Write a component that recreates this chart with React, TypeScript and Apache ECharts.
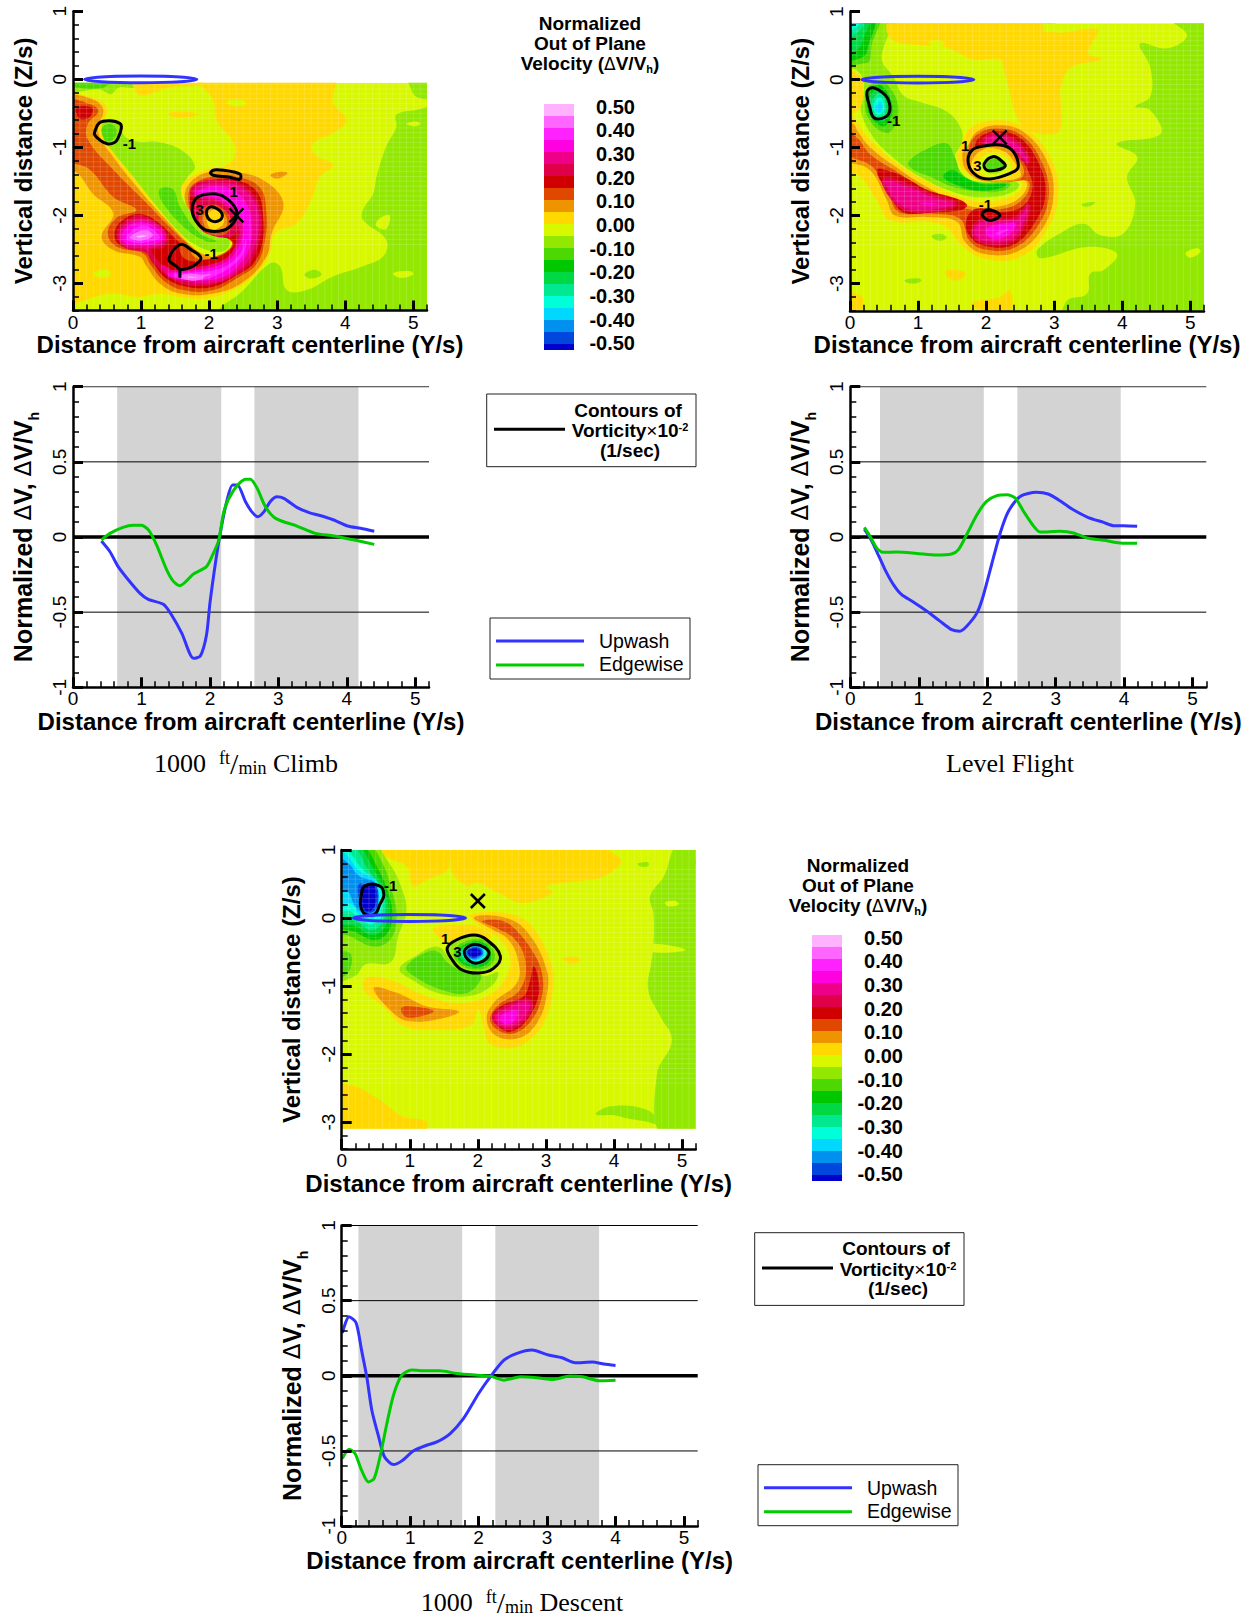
import React, { useEffect, useRef } from "react";
import * as echarts from "echarts";

type Pt = [number, number];
type Band = [number, Pt[]];

const swatchColors = ["#FFB3FF","#FF66FF","#FF22FF","#FF00E0","#EE0088","#E0004A","#D00000","#E04800","#EE9400","#FFD800","#D8F800","#92E800","#4CD800","#00C800","#00D844","#00E890","#00FFD8","#00D8FF","#0090EE","#0048DD","#0000CC"];
const legendTicks = ["0.50","0.40","0.30","0.20","0.10","0.00","-0.10","-0.20","-0.30","-0.40","-0.50"];
const xMajor = [0,1,2,3,4,5];
const xMinor = [0,0.2,0.4,0.6,0.8,1,1.2,1.4,1.6,1.8,2,2.2,2.4,2.6,2.8,3,3.2,3.4,3.6,3.8,4,4.2,4.4,4.6,4.8,5,5.2];
const zMajor = [-3,-2,-1,0,1];
const zMinor = [-3.4,-3.2,-3,-2.8,-2.6,-2.4,-2.2,-2,-1.8,-1.6,-1.4,-1.2,-1,-0.8,-0.6,-0.4,-0.2,0,0.2,0.4,0.6,0.8,1];
const vMajor = [-1,-0.5,0,0.5,1];
const vMinor = [-1,-0.9,-0.8,-0.7,-0.6,-0.5,-0.4,-0.3,-0.2,-0.1,0,0.1,0.2,0.3,0.4,0.5,0.6,0.7,0.8,0.9,1];
const thinRefs = [1,0.5,-0.5];

const climbUpwash: Pt[] = [[0.415,-0.027],[0.54,-0.098],[0.66,-0.197],[0.81,-0.286],[0.98,-0.375],[1.1,-0.415],[1.32,-0.448],[1.44,-0.519],[1.59,-0.641],[1.76,-0.807],[1.86,-0.792],[1.95,-0.652],[2,-0.441],[2.08,-0.175],[2.15,0.024],[2.25,0.246],[2.33,0.346],[2.4,0.346],[2.52,0.235],[2.61,0.169],[2.7,0.135],[2.79,0.169],[2.88,0.235],[2.98,0.268],[3.08,0.257],[3.27,0.197],[3.45,0.162],[3.67,0.135],[3.81,0.113],[4.01,0.073],[4.2,0.058],[4.4,0.038]];
const climbEdgewise: Pt[] = [[0.415,-0.02],[0.54,0.024],[0.73,0.064],[0.88,0.078],[1,0.078],[1.11,0.042],[1.22,-0.053],[1.37,-0.22],[1.47,-0.297],[1.56,-0.324],[1.76,-0.246],[1.95,-0.197],[2.05,-0.109],[2.13,-0.02],[2.21,0.18],[2.35,0.313],[2.52,0.384],[2.59,0.384],[2.69,0.324],[2.81,0.202],[2.96,0.124],[3.27,0.073],[3.54,0.024],[3.81,0.007],[4.11,-0.02],[4.4,-0.049]];
const levelUpwash: Pt[] = [[0.205,0.053],[0.29,-0.007],[0.385,-0.095],[0.507,-0.217],[0.63,-0.317],[0.75,-0.384],[0.92,-0.432],[1.12,-0.494],[1.31,-0.56],[1.48,-0.616],[1.6,-0.627],[1.7,-0.594],[1.85,-0.505],[1.94,-0.394],[2.07,-0.173],[2.19,0.027],[2.31,0.171],[2.48,0.27],[2.72,0.297],[2.89,0.286],[3.04,0.248],[3.24,0.186],[3.46,0.133],[3.7,0.097],[3.85,0.075],[3.99,0.075],[4.19,0.071]];
const levelEdgewise: Pt[] = [[0.205,0.064],[0.29,0.004],[0.385,-0.073],[0.48,-0.102],[0.68,-0.1],[0.97,-0.109],[1.26,-0.12],[1.48,-0.113],[1.58,-0.084],[1.7,0.016],[1.85,0.148],[1.99,0.237],[2.14,0.275],[2.29,0.281],[2.41,0.259],[2.53,0.171],[2.68,0.071],[2.77,0.033],[3.07,0.038],[3.26,0.027],[3.46,-0.007],[3.7,-0.022],[3.94,-0.04],[4.19,-0.042]];
const descentUpwash: Pt[] = [[0.01,0.286],[0.107,0.393],[0.21,0.353],[0.29,0.171],[0.366,-0.007],[0.44,-0.229],[0.54,-0.406],[0.624,-0.539],[0.756,-0.59],[0.878,-0.566],[1.05,-0.499],[1.24,-0.462],[1.39,-0.44],[1.585,-0.384],[1.78,-0.284],[2,-0.118],[2.17,-0.007],[2.37,0.104],[2.56,0.149],[2.78,0.171],[3.02,0.138],[3.22,0.12],[3.41,0.087],[3.66,0.091],[3.83,0.078],[4,0.069]];
const descentEdgewise: Pt[] = [[0.01,-0.55],[0.107,-0.488],[0.195,-0.517],[0.29,-0.628],[0.39,-0.706],[0.473,-0.684],[0.56,-0.539],[0.66,-0.317],[0.756,-0.129],[0.878,0.004],[1.02,0.038],[1.24,0.033],[1.43,0.033],[1.68,0.016],[1.98,0.004],[2.17,-0.002],[2.37,-0.029],[2.61,-0.007],[2.85,-0.013],[3.09,-0.024],[3.33,-0.002],[3.52,-0.007],[3.76,-0.033],[4,-0.029]];

const climbBands: Pt[] = [[0.645,2.165],[2.65,4.17]];
const levelBands: Pt[] = [[0.434,1.95],[2.44,3.95]];
const descentBands: Pt[] = [[0.244,1.76],[2.244,3.76]];

const climbFill: Band[] = [
[-0.05,[[-0.1,0],[1,0],[0.9,-0.12],[0.68,-0.12],[0.55,-0.22],[0.4,-0.15],[0.1,-0.18],[-0.1,-0.2]]],
[-0.1,[[-0.1,0],[0.55,0],[0.5,-0.1],[0.3,-0.14],[0.05,-0.12],[-0.1,-0.1]]],
[-0.05,[[0.34,-0.79],[0.39,-0.62],[0.66,-0.64],[0.76,-0.84],[0.98,-0.92],[1.23,-0.92],[1.59,-1.04],[1.79,-1.28],[1.67,-1.46],[1.59,-1.63],[1.67,-1.87],[1.86,-2.07],[2.11,-2.26],[2.3,-2.36],[2.25,-2.51],[2.06,-2.53],[1.81,-2.44],[1.57,-2.26],[1.23,-1.87],[0.88,-1.43],[0.64,-1.14],[0.49,-0.97]]],
[-0.1,[[0.4,-0.75],[0.5,-0.66],[0.62,-0.7],[0.62,-0.85],[0.5,-0.92],[0.4,-0.85]]],
[-0.1,[[1.27,-1.62],[1.47,-1.62],[1.57,-1.87],[1.86,-2.26],[2.11,-2.38],[1.96,-2.38],[1.67,-2.21],[1.32,-1.82]]],
[-0.05,[[4.9,0],[5.4,0],[5.4,-0.26],[5.05,-0.26],[4.93,-0.06]]],
[-0.05,[[5.4,-0.42],[5.05,-0.45],[4.75,-0.52],[4.75,-0.7],[4.6,-0.99],[4.46,-1.43],[4.41,-1.68],[4.26,-1.92],[4.26,-2.07],[4.6,-2.36],[4.56,-2.6],[4.26,-2.75],[3.82,-2.9],[3.43,-3.1],[3.14,-3.1],[3.04,-2.75],[2.89,-2.71],[2.45,-3.15],[2.16,-3.37],[2.15,-3.5],[5.4,-3.5]]],
[0,[[4.9,-0.65],[5.05,-0.62],[5.1,-0.66],[5,-0.69]]],
[0,[[4.7,-2.85],[4.95,-2.82],[5,-2.87],[4.8,-2.92]]],
[0,[[4.5,-2.05],[4.65,-2],[4.6,-2.2],[4.45,-2.15]]],
[-0.05,[[3.4,-2.87],[3.55,-2.8],[3.65,-2.87],[3.5,-2.93]]],
[0.05,[[0.85,0],[1.9,0],[1.9,-0.08],[1.4,-0.12],[1,-0.24],[0.9,-0.12]]],
[0.05,[[1.4,-0.5],[1.7,-0.48],[1.85,-0.52],[1.5,-0.56]]],
[0.05,[[1.85,0],[3.82,0],[3.82,-0.35],[4.02,-0.6],[3.82,-0.79],[3.53,-0.94],[3.55,-1.11],[3.82,-1.26],[3.63,-1.43],[3.5,-1.77],[3.28,-2.12],[2.97,-2.26],[2.89,-2.56],[2.7,-2.85],[2.35,-3.1],[1.96,-3.22],[1.57,-3.2],[1.27,-3.15],[0.98,-3.2],[0.54,-3.15],[-0.1,-3.22],[-0.1,-0.25],[0.22,-0.25],[0.5,-0.42],[0.42,-0.77],[0.6,-1.08],[0.88,-1.43],[1.18,-1.82],[1.52,-2.21],[1.83,-2.52],[2.06,-2.62],[2.3,-2.5],[2.37,-2.36],[2.1,-2.27],[1.89,-1.97],[1.72,-1.82],[1.59,-1.63],[1.67,-1.48],[1.96,-1.33],[2.3,-1.24],[2.38,-0.99],[2.11,-0.6],[2.06,-0.3]]],
[0,[[2.25,-0.33],[2.45,-0.3],[2.55,-0.36],[2.4,-0.4]]],
[0,[[0.3,-2.85],[0.5,-2.8],[0.55,-2.88],[0.4,-2.92]]],
[0.1,[[2.9,-1.41],[3.05,-1.36],[3.15,-1.38],[3,-1.46]]],
[0.1,[[-0.1,-0.28],[0.22,-0.27],[0.44,-0.43],[0.37,-0.77],[0.59,-1.14],[0.98,-1.63],[1.37,-2.07],[1.67,-2.39],[1.91,-2.58],[2.11,-2.63],[2.3,-2.56],[2.38,-2.41],[2.25,-2.26],[1.96,-2.17],[1.74,-1.97],[1.64,-1.73],[1.74,-1.5],[2.01,-1.36],[2.35,-1.36],[2.79,-1.48],[3.09,-1.82],[2.92,-2.26],[2.84,-2.61],[2.5,-2.98],[2.06,-3.15],[1.57,-3.15],[1.27,-3],[1.08,-2.75],[0.98,-2.61],[0.59,-2.51],[0.42,-2.31],[0.59,-1.97],[0.29,-1.68],[0.07,-1.38],[-0.1,-1.3]]],
[0.15,[[-0.1,-0.33],[0.29,-0.38],[0.37,-0.48],[0.22,-0.65],[0.22,-0.89],[0.59,-1.33],[1.03,-1.77],[1.42,-2.17],[1.76,-2.49],[1.96,-2.61],[2.16,-2.58],[2.3,-2.49],[2.33,-2.39],[2.11,-2.26],[1.91,-2.17],[1.74,-1.97],[1.69,-1.73],[1.76,-1.55],[2.06,-1.43],[2.4,-1.43],[2.75,-1.6],[2.84,-1.97],[2.82,-2.36],[2.7,-2.71],[2.45,-2.9],[2.06,-3.1],[1.62,-3.1],[1.32,-2.95],[1.13,-2.71],[1.03,-2.56],[0.64,-2.46],[0.51,-2.26],[0.64,-2.04],[0.93,-1.92],[0.59,-1.73],[0.25,-1.33],[-0.1,-1.14]]],
[0.2,[[0.05,-0.42],[0.28,-0.42],[0.25,-0.55],[0.1,-0.58]]],
[0.2,[[0.61,-2.26],[0.74,-2.06],[1,-1.98],[1.27,-2.12],[1.52,-2.36],[1.81,-2.61],[2.06,-2.63],[2.3,-2.51],[2.35,-2.39],[2.11,-2.29],[1.91,-2.22],[1.76,-2.02],[1.72,-1.73],[1.81,-1.58],[2.06,-1.48],[2.4,-1.48],[2.7,-1.65],[2.79,-1.97],[2.79,-2.36],[2.65,-2.71],[2.4,-2.88],[2.06,-3.05],[1.67,-3.05],[1.37,-2.93],[1.18,-2.71],[1.03,-2.51],[0.69,-2.44]]],
[0.3,[[0.66,-2.29],[0.77,-2.11],[1,-2.03],[1.26,-2.16],[1.37,-2.32],[1.32,-2.45],[1.13,-2.49],[1.25,-2.71],[1.42,-2.83],[1.86,-2.78],[2.21,-2.68],[2.38,-2.51],[2.43,-2.26],[2.3,-1.92],[2.06,-1.73],[1.81,-1.73],[1.74,-1.65],[1.86,-1.53],[2.11,-1.5],[2.4,-1.53],[2.65,-1.73],[2.75,-2.02],[2.72,-2.36],[2.57,-2.71],[2.35,-2.88],[2.01,-3],[1.67,-3],[1.4,-2.88],[1.2,-2.68],[1.08,-2.53],[0.78,-2.46]]],
[0.35,[[0.69,-2.31],[0.81,-2.13],[1.03,-2.08],[1.25,-2.17],[1.35,-2.32],[1.23,-2.44],[0.98,-2.46],[0.78,-2.44]]],
[0.35,[[1.32,-2.75],[1.47,-2.83],[1.86,-2.78],[2.25,-2.66],[2.43,-2.41],[2.48,-2.17],[2.35,-1.92],[2.11,-1.77],[1.86,-1.73],[1.79,-1.67],[1.86,-1.6],[2.06,-1.55],[2.35,-1.6],[2.57,-1.82],[2.65,-2.17],[2.62,-2.46],[2.45,-2.75],[2.16,-2.95],[1.67,-2.95],[1.42,-2.88]]],
[0.4,[[0.77,-2.3],[0.9,-2.17],[1.05,-2.13],[1.22,-2.22],[1.3,-2.33],[1.18,-2.4],[0.95,-2.42],[0.8,-2.38]]],
[0.4,[[1.42,-2.87],[1.9,-2.82],[2.25,-2.72],[2.47,-2.5],[2.53,-2.3],[2.57,-2.4],[2.5,-2.62],[2.3,-2.8],[2.05,-2.92],[1.7,-2.93]]],
[0.45,[[0.8,-2.33],[0.95,-2.22],[1.1,-2.2],[1.2,-2.3],[1.05,-2.38],[0.9,-2.38]]],
[0.45,[[1.5,-2.88],[1.8,-2.86],[2.1,-2.84],[1.95,-2.92],[1.7,-2.93]]],
[0.5,[[0.88,-2.32],[1,-2.27],[1.13,-2.3],[1,-2.35]]],
[0.5,[[1.6,-2.9],[1.75,-2.88],[1.9,-2.91],[1.75,-2.94]]],
[0.15,[[1.58,-2.42],[1.75,-2.5],[1.95,-2.62],[1.78,-2.68],[1.6,-2.6]]],
[0.1,[[1.75,-2.5],[1.92,-2.58],[2.05,-2.62],[1.88,-2.65],[1.75,-2.58]]],
[0.25,[[1.78,-1.85],[1.95,-1.78],[2.2,-1.85],[2.4,-2.1],[2.35,-2.3],[2.05,-2.3],[1.85,-2.17]]],
[0.15,[[1.85,-2],[2,-1.85],[2.2,-1.9],[2.33,-2.1],[2.25,-2.27],[2,-2.28],[1.88,-2.15]]],
[0.1,[[1.92,-2],[2.05,-1.88],[2.2,-1.95],[2.27,-2.1],[2.2,-2.23],[2.02,-2.25],[1.93,-2.15]]],
[0.05,[[1.97,-2.02],[2.07,-1.92],[2.17,-1.98],[2.22,-2.08],[2.15,-2.18],[2.02,-2.2]]],
];

const levelFill: Band[] = [
[-0.05,[[-0.1,0.9],[0.64,0.9],[0.52,0.55],[0.47,0.28],[0.64,0.04],[0.78,-0.23],[1.03,-0.33],[1.42,-0.47],[1.63,-0.72],[1.64,-0.94],[1.54,-1.14],[1.64,-1.38],[1.91,-1.53],[2.25,-1.48],[2.48,-1.53],[2.4,-1.65],[2.01,-1.73],[1.57,-1.67],[1.03,-1.43],[0.59,-1.11],[0.29,-0.77],[0.15,-0.4],[0.2,-0.11],[0.17,0.06],[0.05,0.16],[-0.1,0.19]]],
[-0.1,[[-0.1,0.9],[0.42,0.9],[0.32,0.52],[0.29,0.28],[0.22,0.24],[-0.1,0.24]]],
[-0.15,[[-0.1,0.9],[0.35,0.9],[0.27,0.5],[0.2,0.34],[-0.1,0.3]]],
[-0.2,[[-0.1,0.9],[0.28,0.9],[0.2,0.62],[0.12,0.45],[-0.1,0.4]]],
[-0.25,[[-0.1,0.9],[0.22,0.9],[0.12,0.7],[-0.1,0.62]]],
[-0.3,[[-0.1,0.9],[0.18,0.9],[0.08,0.76],[-0.1,0.72]]],
[-0.35,[[-0.1,0.9],[0.1,0.9],[0,0.8]]],
[-0.1,[[0.27,-0.11],[0.44,-0.02],[0.64,-0.2],[0.71,-0.5],[0.59,-0.77],[0.44,-0.75],[0.29,-0.6],[0.22,-0.4]]],
[-0.15,[[0.3,-0.15],[0.44,-0.08],[0.58,-0.25],[0.62,-0.48],[0.52,-0.68],[0.4,-0.65],[0.28,-0.5],[0.25,-0.32]]],
[-0.2,[[0.32,-0.2],[0.44,-0.14],[0.55,-0.3],[0.57,-0.48],[0.48,-0.62],[0.37,-0.58],[0.29,-0.42]]],
[-0.25,[[0.34,-0.28],[0.45,-0.2],[0.52,-0.33],[0.53,-0.47],[0.45,-0.57],[0.36,-0.52],[0.31,-0.4]]],
[-0.3,[[0.36,-0.33],[0.45,-0.26],[0.5,-0.38],[0.49,-0.47],[0.43,-0.52],[0.36,-0.47]]],
[-0.35,[[0.38,-0.38],[0.45,-0.33],[0.48,-0.4],[0.44,-0.48],[0.38,-0.46]]],
[-0.1,[[0.86,-1.21],[1.13,-1.02],[1.42,-0.94],[1.54,-1.14],[1.64,-1.38],[1.86,-1.5],[2.35,-1.53],[2.25,-1.63],[1.96,-1.65],[1.52,-1.58],[1.18,-1.43],[0.91,-1.31]]],
[-0.15,[[1.37,-1.43],[1.5,-1.33],[1.67,-1.43],[1.91,-1.53],[2.3,-1.54],[2.2,-1.6],[1.86,-1.63],[1.57,-1.55]]],
[-0.05,[[4.7,0.9],[5.4,0.9],[5.4,-3.5],[3.16,-3.5],[3.19,-3.25],[3.48,-3.15],[3.53,-2.85],[3.73,-2.8],[3.92,-2.56],[3.48,-2.46],[2.8,-2.63],[2.75,-2.51],[3.09,-2.26],[3.43,-2.12],[3.68,-2.29],[4.02,-2.26],[4.19,-1.82],[4.07,-1.43],[4.22,-1.14],[3.92,-0.94],[4.56,-0.8],[4.41,-0.45],[4.19,-0.4],[4.41,-0.25],[4.41,0.18],[4.26,0.53],[4.66,0.46],[4.95,0.65]]],
[0,[[4.93,-2.55],[5.1,-2.48],[5.15,-2.53],[5,-2.62]]],
[-0.05,[[3.4,-1.83],[3.6,-1.8],[3.55,-1.85],[3.45,-1.87]]],
[-0.05,[[1.2,-2.3],[1.35,-2.27],[1.42,-2.33],[1.3,-2.37]]],
[-0.05,[[0.8,-2.95],[1,-2.92],[1.05,-2.96],[0.9,-3]]],
[0.05,[[0.6,0.9],[2.95,0.9],[3,0.7],[3.55,0.75],[3.65,0.72],[3.5,0.4],[3.7,0.3],[3.25,0.18],[3.1,-0.1],[3.1,-0.4],[3.1,-0.7],[3,-0.8],[2.6,-0.75],[2.45,-0.55],[2.35,-0.2],[2.25,0.2],[2.2,0.3],[1.8,0.3],[1.4,0.48],[1.1,0.5],[0.6,0.6]]],
[0,[[1.15,0.55],[1.3,0.58],[1.4,0.53],[1.25,0.5]]],
[0,[[2.85,0.9],[3,0.9],[3,0.72],[2.85,0.72]]],
[0.05,[[-0.1,0.1],[0.08,0.1],[0.18,0],[0.2,-0.2],[0.12,-0.45],[-0.1,-0.5]]],
[0.05,[[-0.1,-3.15],[0.1,-3.15],[0.2,-3.25],[0.1,-3.5],[-0.1,-3.5]]],
[0.05,[[1.4,-2.82],[1.55,-2.8],[1.7,-2.85],[1.6,-2.95],[1.45,-2.92]]],
[0.05,[[1.8,-3.28],[2.2,-3.2],[2.35,-3.1],[2.35,-3.4],[1.9,-3.38]]],
[0.05,[[-0.1,-0.5],[0.05,-0.55],[0.25,-0.84],[0.64,-1.19],[1.13,-1.5],[1.76,-1.77],[2.2,-1.77],[2.48,-1.65],[2.52,-1.5],[2.25,-1.46],[1.91,-1.48],[1.67,-1.33],[1.57,-1.14],[1.64,-0.94],[1.76,-0.72],[2.11,-0.6],[2.55,-0.7],[2.94,-1.14],[3.06,-1.68],[2.89,-2.22],[2.5,-2.61],[1.96,-2.63],[1.62,-2.41],[1.42,-2.17],[1.13,-2.09],[0.59,-2.07],[0.39,-1.77],[0.15,-1.43],[-0.1,-1.28]]],
[0.1,[[-0.1,-0.6],[0.05,-0.65],[0.12,-0.77],[0.29,-0.99],[0.64,-1.26],[1.13,-1.58],[1.72,-1.85],[2.25,-1.85],[2.55,-1.68],[2.57,-1.48],[2,-1.5],[1.72,-1.35],[1.65,-1.1],[1.72,-0.99],[1.86,-0.77],[2.16,-0.67],[2.55,-0.77],[2.89,-1.19],[2.99,-1.68],[2.84,-2.17],[2.45,-2.53],[1.96,-2.56],[1.69,-2.39],[1.57,-2.09],[1.13,-2.02],[0.66,-2],[0.54,-1.77],[0.29,-1.33],[-0.1,-1.14]]],
[0.15,[[-0.1,-0.72],[0.1,-0.85],[0.3,-1.1],[0.65,-1.33],[1.13,-1.63],[1.7,-1.9],[2.25,-1.9],[2.55,-1.75],[2.62,-1.5],[2.2,-1.5],[1.8,-1.3],[1.75,-1],[1.88,-0.8],[2.16,-0.72],[2.52,-0.82],[2.82,-1.22],[2.92,-1.68],[2.78,-2.12],[2.42,-2.47],[1.98,-2.5],[1.75,-2.36],[1.62,-2.05],[1.2,-1.97],[0.72,-1.95],[0.58,-1.72],[0.35,-1.3],[-0.1,-1.05]]],
[0.2,[[0.39,-1.33],[0.62,-1.36],[0.88,-1.48],[1.13,-1.62],[1.62,-1.77],[1.72,-1.85],[1.62,-1.92],[1.2,-1.95],[0.78,-1.95],[0.6,-1.72]]],
[0.2,[[1.9,-0.85],[2.16,-0.76],[2.5,-0.86],[2.78,-1.25],[2.87,-1.68],[2.73,-2.08],[2.4,-2.43],[2,-2.45],[1.78,-2.33],[1.7,-2.1],[1.85,-1.9],[2.25,-1.95],[2.55,-1.85],[2.68,-1.6],[2.62,-1.35],[2.45,-1.1],[2.1,-0.95],[1.85,-1]]],
[0.3,[[0.5,-1.47],[0.85,-1.55],[1.2,-1.7],[1.55,-1.82],[1.3,-1.92],[0.85,-1.92],[0.62,-1.75]]],
[0.3,[[1.95,-0.9],[2.16,-0.8],[2.45,-0.92],[2.62,-1.15],[2.6,-1.22],[2.3,-1],[2,-1]]],
[0.3,[[1.82,-2.15],[2,-2.05],[2.4,-2.05],[2.62,-1.85],[2.55,-2.15],[2.35,-2.38],[2,-2.4],[1.82,-2.3]]],
[0.35,[[1,-1.8],[1.2,-1.79],[1.4,-1.83],[1.2,-1.86],[1.03,-1.85]]],
[0.35,[[1.98,-2.18],[2.2,-2.1],[2.45,-2.1],[2.35,-2.3],[2.05,-2.35]]],
[0.4,[[2.1,-2.25],[2.3,-2.18],[2.4,-2.16],[2.2,-2.3]]],
[0.1,[[1.75,-1.15],[1.9,-0.98],[2.25,-0.98],[2.48,-1.18],[2.55,-1.4],[2.35,-1.5],[1.95,-1.47],[1.75,-1.3]]],
[0.05,[[1.78,-1.25],[1.95,-1.03],[2.25,-1.05],[2.42,-1.22],[2.5,-1.42],[2.2,-1.48],[1.9,-1.45]]],
[0,[[1.9,-1.22],[2.05,-1.08],[2.25,-1.12],[2.38,-1.3],[2.2,-1.43],[1.95,-1.4]]],
[-0.05,[[1.97,-1.25],[2.1,-1.13],[2.25,-1.18],[2.3,-1.28],[2.15,-1.38],[2,-1.35]]],
[-0.1,[[2,-1.24],[2.12,-1.16],[2.23,-1.22],[2.27,-1.3],[2.12,-1.34],[2.02,-1.3]]],
];

const descentFill: Band[] = [
[-0.05,[[4.95,1.1],[5.4,1.1],[5.4,-3.2],[4.7,-3.2],[4.63,-2.3],[4.85,-1.8],[4.68,-1.45],[4.5,-1.05],[4.55,-0.65],[4.58,-0.4],[4.58,0.07],[4.53,0.32],[4.73,0.61]]],
[0,[[4.55,-0.38],[5.05,-0.47],[4.55,-0.5]]],
[0,[[4.75,0.23],[4.9,0.25],[4.95,0.2],[4.8,0.17]]],
[-0.05,[[3.73,-2.89],[3.95,-2.77],[4.48,-2.82],[4.7,-3.05],[4.5,-3],[4.2,-2.95],[4,-2.9]]],
[-0.05,[[4.35,0.8],[4.5,0.82],[4.5,0.76],[4.38,0.76]]],
[-0.05,[[5.1,0.84],[5.3,0.86],[5.3,0.8],[5.1,0.8]]],
[0.05,[[0.5,1.1],[3.5,1.1],[4.1,0.86],[3.85,0.61],[3.45,0.54],[3,0.47],[3.1,0.37],[2.65,0.22],[2.3,0.37],[1.98,0.52],[1.85,0.47],[1.62,0.66],[1.6,0.86],[1.55,0.7],[1.25,0.56],[1.05,0.47],[0.95,0.76],[0.65,0.9]]],
[0.05,[[3.25,-0.6],[3.42,-0.57],[3.5,-0.62],[3.38,-0.67]]],
[0.05,[[-0.1,-2.45],[0.1,-2.45],[0.3,-2.52],[0.62,-2.72],[0.9,-2.92],[1.25,-3],[1.15,-3.2],[-0.1,-3.2]]],
[-0.05,[[-0.1,1.1],[0.45,1.1],[0.7,0.8],[0.85,0.52],[0.95,0.12],[0.83,-0.27],[0.72,-0.65],[0.35,-0.68],[0.2,-0.85],[-0.1,-0.9]]],
[-0.05,[[0.85,-0.75],[1.1,-0.55],[1.4,-0.42],[1.6,-0.6],[1.8,-0.78],[2.1,-0.85],[2.3,-0.8],[2.2,-1],[1.85,-1.15],[1.4,-1.1],[1.05,-0.92]]],
[-0.1,[[0.95,-0.72],[1.25,-0.5],[1.42,-0.5],[1.55,-0.65],[1.8,-0.8],[2.05,-0.85],[1.85,-1.1],[1.45,-1.05],[1.1,-0.88]]],
[-0.1,[[-0.1,-0.55],[0.1,-0.5],[0.15,-0.65],[0.05,-0.85],[-0.1,-0.85]]],
[0.05,[[1.89,0.05],[2.48,0.06],[2.82,-0.15],[3.09,-0.71],[3.11,-1],[3.01,-1.45],[2.82,-1.74],[2.52,-1.91],[2.18,-1.85],[2.08,-1.59],[2.01,-1.35],[1.89,-1.59],[1.25,-1.64],[0.91,-1.59],[0.61,-1.3],[0.32,-1.05],[0.37,-0.88],[0.71,-0.91],[1.25,-1.15],[1.74,-1.25],[2.13,-1.15],[2.38,-0.93],[2.48,-0.61],[2.33,-0.32],[2.03,-0.12]]],
[0.05,[[1.35,-0.15],[1.85,-0.1],[2.05,-0.15],[2.2,-0.3],[1.55,-0.35]]],
[0.1,[[1.94,0.01],[2.38,0.01],[2.72,-0.2],[3.01,-0.76],[3.01,-1.15],[2.87,-1.54],[2.62,-1.76],[2.28,-1.74],[2.13,-1.5],[2.23,-1.25],[2.57,-0.96],[2.6,-0.66],[2.45,-0.32],[2.18,-0.15]]],
[0.1,[[0.47,-1.03],[0.81,-1.1],[1.25,-1.3],[1.72,-1.37],[1.5,-1.47],[1,-1.52],[0.76,-1.4]]],
[0.15,[[0.88,-1.32],[1.1,-1.31],[1.35,-1.37],[1.15,-1.45],[0.93,-1.45]]],
[0.15,[[2.06,-0.05],[2.38,-0.05],[2.6,-0.22],[2.82,-0.52],[2.94,-0.81],[2.94,-1.15],[2.79,-1.5],[2.55,-1.69],[2.33,-1.67],[2.18,-1.5],[2.28,-1.3],[2.62,-1.05],[2.7,-0.66],[2.55,-0.32],[2.28,-0.15]]],
[0.2,[[2.82,-0.71],[2.89,-0.91],[2.89,-1.15],[2.72,-1.5],[2.5,-1.67],[2.33,-1.62],[2.21,-1.45],[2.33,-1.3],[2.67,-1.15],[2.77,-0.91]]],
[0.3,[[2.23,-1.45],[2.38,-1.32],[2.72,-1.2],[2.79,-1.3],[2.67,-1.5],[2.48,-1.62],[2.33,-1.59]]],
[0.35,[[2.3,-1.45],[2.45,-1.35],[2.6,-1.35],[2.58,-1.5],[2.45,-1.58],[2.33,-1.55]]],
[-0.1,[[-0.1,1.1],[0.37,1.1],[0.6,0.8],[0.76,0.32],[0.81,-0.02],[0.71,-0.32],[0.47,-0.42],[0.12,-0.27],[-0.1,-0.17]]],
[-0.15,[[-0.1,1.1],[0.28,1.1],[0.52,0.75],[0.7,0.32],[0.74,-0.02],[0.65,-0.25],[0.45,-0.32],[0.18,-0.2],[-0.1,-0.1]]],
[-0.2,[[-0.1,1.1],[0.22,1.1],[0.45,0.75],[0.65,0.35],[0.68,0],[0.6,-0.18],[0.43,-0.25],[0.2,-0.12],[-0.1,-0.04]]],
[-0.25,[[-0.1,1.1],[0.15,1.1],[0.38,0.72],[0.6,0.4],[0.63,0],[0.55,-0.12],[0.42,-0.18],[0.22,-0.05],[-0.1,0.02]]],
[-0.3,[[-0.1,1.05],[0.08,1],[0.3,0.72],[0.55,0.48],[0.58,0.02],[0.5,-0.06],[0.42,-0.1],[0.25,0],[0.12,0.1],[-0.1,0.1]]],
[-0.35,[[-0.1,0.98],[0.05,0.95],[0.25,0.7],[0.5,0.55],[0.54,0.1],[0.47,0],[0.38,0],[0.25,0.05],[0.15,0.2],[-0.1,0.2]]],
[-0.4,[[-0.1,0.9],[0.1,0.8],[0.25,0.62],[0.5,0.5],[0.52,0.12],[0.45,0.05],[0.35,0.06],[0.2,0.17],[0.08,0.4],[-0.1,0.43]]],
[-0.35,[[-0.1,0.35],[0.05,0.33],[0.05,0.18],[-0.1,0.15]]],
[-0.45,[[0.25,0.5],[0.35,0.5],[0.5,0.48],[0.53,0.2],[0.44,0.08],[0.32,0.1],[0.25,0.3]]],
[-0.5,[[0.3,0.47],[0.48,0.47],[0.5,0.22],[0.42,0.1],[0.33,0.13],[0.28,0.3]]],
[-0.05,[[1.55,-0.45],[1.8,-0.28],[2.1,-0.28],[2.3,-0.5],[2.3,-0.65],[2.05,-0.82],[1.8,-0.75],[1.6,-0.6]]],
[-0.1,[[1.65,-0.5],[1.8,-0.35],[2.1,-0.33],[2.25,-0.55],[2.15,-0.72],[1.9,-0.75],[1.7,-0.65]]],
[-0.15,[[1.68,-0.5],[1.85,-0.37],[2.08,-0.36],[2.2,-0.55],[2.1,-0.7],[1.9,-0.72],[1.72,-0.62]]],
[-0.2,[[1.72,-0.5],[1.87,-0.39],[2.05,-0.38],[2.17,-0.53],[2.07,-0.67],[1.9,-0.69],[1.75,-0.6]]],
[-0.25,[[1.75,-0.5],[1.88,-0.4],[2.04,-0.39],[2.14,-0.52],[2.05,-0.65],[1.9,-0.66],[1.78,-0.58]]],
[-0.3,[[1.77,-0.5],[1.89,-0.41],[2.03,-0.4],[2.12,-0.52],[2.03,-0.63],[1.9,-0.64],[1.8,-0.57]]],
[-0.35,[[1.79,-0.5],[1.9,-0.42],[2.02,-0.41],[2.1,-0.52],[2.02,-0.61],[1.9,-0.62],[1.82,-0.56]]],
[-0.4,[[1.81,-0.5],[1.9,-0.43],[2.01,-0.42],[2.08,-0.51],[2,-0.6],[1.9,-0.6],[1.83,-0.55]]],
[-0.45,[[1.83,-0.5],[1.9,-0.44],[2,-0.43],[2.07,-0.51],[1.99,-0.58],[1.9,-0.59],[1.85,-0.54]]],
[-0.5,[[1.85,-0.49],[1.92,-0.45],[1.99,-0.45],[2.05,-0.51],[1.98,-0.57],[1.9,-0.57],[1.86,-0.53]]],
];

const climbContours: Pt[][] = [
[[0.32,-0.77],[0.39,-0.64],[0.54,-0.61],[0.69,-0.65],[0.71,-0.72],[0.66,-0.87],[0.61,-0.93],[0.51,-0.95],[0.39,-0.89],[0.32,-0.82]],
[[1.41,-2.65],[1.57,-2.43],[1.74,-2.51],[1.88,-2.63],[1.76,-2.75],[1.59,-2.8],[1.52,-2.75]],
[[1.57,-2.8],[1.57,-2.92]],
[[2.02,-1.37],[2.11,-1.33],[2.45,-1.39],[2.45,-1.47],[2.3,-1.44],[2.06,-1.41]],
[[1.75,-1.92],[1.81,-1.75],[1.96,-1.69],[2.16,-1.7],[2.33,-1.82],[2.41,-1.97],[2.35,-2.12],[2.21,-2.22],[1.96,-2.22],[1.81,-2.09]],
[[1.96,-1.97],[2.01,-1.88],[2.11,-1.9],[2.19,-1.98],[2.16,-2.07],[2.03,-2.08]],
];
const levelContours: Pt[][] = [
[[0.25,-0.18],[0.34,-0.12],[0.52,-0.23],[0.58,-0.35],[0.57,-0.5],[0.47,-0.57],[0.35,-0.56],[0.29,-0.4]],
[[1.94,-1.97],[2.06,-1.92],[2.2,-1.99],[2.12,-2.06],[2.01,-2.06]],
[[1.74,-1.24],[1.79,-1.04],[2.01,-0.97],[2.25,-0.97],[2.4,-1.06],[2.47,-1.29],[2.35,-1.38],[2.06,-1.46],[1.86,-1.41]],
[[1.97,-1.24],[2.11,-1.13],[2.23,-1.2],[2.28,-1.27],[2.16,-1.33],[2.01,-1.33]],
];
const descentContours: Pt[][] = [
[[0.28,0.29],[0.34,0.47],[0.56,0.47],[0.62,0.34],[0.56,0.2],[0.49,0.06],[0.34,0.06],[0.28,0.17]],
[[1.55,-0.44],[1.69,-0.32],[1.94,-0.25],[2.13,-0.32],[2.33,-0.56],[2.23,-0.74],[2.01,-0.81],[1.76,-0.76],[1.62,-0.61]],
[[1.8,-0.49],[1.94,-0.39],[2.11,-0.44],[2.16,-0.54],[2.04,-0.65],[1.89,-0.64]],
];

type Lab = [string, number, number];
const climbLabels: Lab[] = [["-1",0.83,-0.94],["-1",2.03,-2.56],["1",2.36,-1.65],["3",1.86,-1.91]];
const levelLabels: Lab[] = [["-1",0.64,-0.6],["-1",1.99,-1.83],["1",1.69,-0.97],["3",1.87,-1.26]];
const descentLabels: Lab[] = [["-1",0.72,0.48],["1",1.52,-0.3],["3",1.7,-0.49]];
const climbCore: Pt = [2.4,-2];
const levelCore: Pt = [2.2,-0.85];
const descentCore: Pt = [2,0.25];
const wing = { left: 0.17, right: 1.82, half: 0.05 };

const BLUE = "#3333FF";
const GREEN = "#00CC00";
const SANS = "Liberation Sans";
const colorOf = (lv: number) => swatchColors[Math.round((0.5 - lv) / 0.05)];

const gridDefs = [
  { left: 73, top: 11.3, width: 354, height: 299.2, kind: "c" },
  { left: 850, top: 11.6, width: 354, height: 299.2, kind: "c" },
  { left: 341.7, top: 850, width: 354, height: 299.2, kind: "c" },
  { left: 73, top: 386.7, width: 356, height: 300.6, kind: "l" },
  { left: 850.3, top: 386.7, width: 356, height: 300.6, kind: "l" },
  { left: 341.7, top: 1225.5, width: 356, height: 300.6, kind: "l" },
];

const TITLE_X = "Distance from aircraft centerline (Y/s)";
const TITLE_Y = "Vertical distance (Z/s)";
const TITLE_V = "{b|Normalized }{d|Δ}{b|V, }{d|Δ}{b|V/V}{s|h}";
const richV = {
  b: { fontFamily: SANS, fontWeight: "bold", fontSize: 25, color: "#000" },
  d: { fontFamily: "DejaVu Sans", fontWeight: "normal", fontSize: 23, color: "#000" },
  s: { fontFamily: SANS, fontWeight: "bold", fontSize: 14, color: "#000", verticalAlign: "bottom", lineHeight: 36 },
};

function buildAxes() {
  const xAxis: any[] = [];
  const yAxis: any[] = [];
  gridDefs.forEach((g, i) => {
    const isC = g.kind === "c";
    const base = { type: "value", gridIndex: i, z: 5, splitLine: { show: false } };
    const labelStyle = { fontFamily: SANS, fontSize: 19, color: "#000" };
    xAxis.push({
      ...base, min: 0, max: 5.2, position: "bottom",
      axisLine: { show: true, onZero: false, lineStyle: { color: "#000", width: 2.5 } },
      axisTick: { show: true, inside: true, length: 10, lineStyle: { color: "#000", width: 3 }, customValues: xMajor },
      axisLabel: { show: true, customValues: xMajor, margin: 2, ...labelStyle },
      name: TITLE_X, nameLocation: "middle", nameGap: 21.5,
      nameTextStyle: { fontFamily: SANS, fontWeight: "bold", fontSize: 24, color: "#000" },
    });
    xAxis.push({
      ...base, min: 0, max: 5.2, position: "bottom",
      axisLine: { show: false, onZero: false },
      axisTick: { show: true, inside: true, length: 6, lineStyle: { color: "#000", width: 1.5 }, customValues: xMinor },
      axisLabel: { show: false },
    });
    const yMin = isC ? -3.4 : -1;
    yAxis.push({
      ...base, min: yMin, max: 1, position: "left",
      axisLine: { show: true, onZero: false, lineStyle: { color: "#000", width: 2.5 } },
      axisTick: { show: true, inside: true, length: 10, lineStyle: { color: "#000", width: 3 }, customValues: isC ? zMajor : vMajor },
      axisLabel: { show: true, customValues: isC ? zMajor : vMajor, rotate: 90, margin: 4, ...labelStyle },
      name: isC ? TITLE_Y : TITLE_V, nameLocation: "middle", nameGap: isC ? 38 : 32,
      nameTextStyle: isC ? { fontFamily: SANS, fontWeight: "bold", fontSize: 24, color: "#000" } : { rich: richV },
    });
    yAxis.push({
      ...base, min: yMin, max: 1, position: "left",
      axisLine: { show: false, onZero: false },
      axisTick: { show: true, inside: true, length: 6, lineStyle: { color: "#000", width: 1.5 }, customValues: isC ? zMinor : vMinor },
      axisLabel: { show: false },
    });
  });
  return { xAxis, yAxis };
}

function fieldSeries(i: number, fill: Band[], contours: Pt[][], labels: Lab[], core: Pt, ext: [number, number]) {
  const ax = { xAxisIndex: i * 2, yAxisIndex: i * 2, coordinateSystem: "cartesian2d" };
  return [
    {
      type: "custom", ...ax, silent: true, z: 2, data: [[0, 0]],
      renderItem: (_p: any, api: any) => {
        const tl = api.coord([0, ext[1]]);
        const br = api.coord([5.2, ext[0]]);
        const rect = { x: tl[0], y: tl[1], width: br[0] - tl[0], height: br[1] - tl[1] };
        const children: any[] = [{ type: "rect", shape: rect, style: { fill: colorOf(0) } }];
        fill.forEach(([lv, pts]) => {
          const stroke = lv >= 0.3 ? { stroke: colorOf(lv - 0.05), lineWidth: 3 } : {};
          children.push({
            type: "polygon",
            shape: { points: pts.map((p) => api.coord(p)), smooth: 0.4 },
            style: { fill: colorOf(lv), ...stroke },
          });
        });
        const meshStyle = { stroke: "#fff", lineWidth: 1, opacity: 0.16 };
        for (let k = 1; k < 52; k++) {
          const c = api.coord([k / 10, 0]);
          children.push({ type: "line", shape: { x1: c[0], y1: tl[1], x2: c[0], y2: br[1] }, style: meshStyle });
        }
        for (let k = -34; k < 11; k++) {
          const c = api.coord([0, k / 14]);
          children.push({ type: "line", shape: { x1: tl[0], y1: c[1], x2: br[0], y2: c[1] }, style: meshStyle });
        }
        return { type: "group", clipPath: { type: "rect", shape: rect }, children };
      },
    },
    {
      type: "custom", ...ax, silent: true, z: 3, data: [[0, 0]],
      renderItem: (_p: any, api: any) => {
        const children: any[] = contours.map((pts) => ({
          type: "polygon",
          shape: { points: pts.map((p) => api.coord(p)), smooth: 0.4 },
          style: { fill: "none", stroke: "#000", lineWidth: 3 },
        }));
        labels.forEach(([t, x, z]) => {
          const c = api.coord([x, z]);
          children.push({
            type: "text", x: c[0], y: c[1],
            style: { text: t, fill: "#000", font: `bold 15px ${SANS}`, align: "center", verticalAlign: "middle" },
          });
        });
        const m = api.coord(core);
        const s = 7;
        [[-s, -s, s, s], [-s, s, s, -s]].forEach((d) => {
          children.push({
            type: "line",
            shape: { x1: m[0] + d[0], y1: m[1] + d[1], x2: m[0] + d[2], y2: m[1] + d[3] },
            style: { stroke: "#000", lineWidth: 2.5 },
          });
        });
        const wl = api.coord([wing.left, 0]);
        const wr = api.coord([wing.right, 0]);
        const wt = api.coord([wing.left, wing.half]);
        children.push({
          type: "ellipse",
          shape: { cx: (wl[0] + wr[0]) / 2, cy: wl[1], rx: (wr[0] - wl[0]) / 2, ry: wl[1] - wt[1] },
          style: { fill: "none", stroke: BLUE, lineWidth: 3 },
        });
        return { type: "group", children };
      },
    },
  ];
}

function lineSeries(i: number, bands: Pt[], up: Pt[], ed: Pt[]) {
  const ax = { xAxisIndex: i * 2, yAxisIndex: i * 2 };
  const ref = (v: number, w: number) => ({
    type: "line", ...ax, silent: true, showSymbol: false, z: 3,
    data: [[0, v], [5.2, v]], lineStyle: { color: "#000", width: w },
  });
  return [
    {
      type: "custom", ...ax, coordinateSystem: "cartesian2d", silent: true, z: 1,
      data: bands,
      renderItem: (_p: any, api: any) => {
        const a = api.coord([api.value(0), 1]);
        const b = api.coord([api.value(1), -1]);
        return { type: "rect", shape: { x: a[0], y: a[1], width: b[0] - a[0], height: b[1] - a[1] }, style: { fill: "#D3D3D3" } };
      },
    },
    ...thinRefs.map((v) => ref(v, 1)),
    ref(0, 3.5),
    { type: "line", ...ax, name: "Upwash", showSymbol: false, smooth: 0.25, z: 4, data: up, lineStyle: { color: BLUE, width: 3 } },
    { type: "line", ...ax, name: "Edgewise", showSymbol: false, smooth: 0.25, z: 4, data: ed, lineStyle: { color: GREEN, width: 3 } },
  ];
}

function t(x: number, y: number, text: string, font: string, align = "center", rich?: any) {
  return {
    type: "text", x, y, silent: true,
    style: { text, font, fill: "#000", align, verticalAlign: "middle", ...(rich ? { rich } : {}) },
  };
}

function colorLegend(dx: number, dy: number, tickDy: number) {
  const els: any[] = [];
  const B19 = `bold 19px ${SANS}`;
  els.push(t(590 + dx, 23.5 + tickDy, "Normalized", B19));
  els.push(t(590 + dx, 43.5 + tickDy, "Out of Plane", B19));
  els.push(t(590 + dx, 63.5 + tickDy, "{b|Velocity (}{d|Δ}{b|V/V}{s|h}{b|)}", B19, "center", {
    b: { font: B19, fill: "#000" },
    d: { font: `17px DejaVu Sans`, fill: "#000" },
    s: { font: `bold 11px ${SANS}`, fill: "#000", verticalAlign: "bottom", lineHeight: 22 },
  }));
  swatchColors.forEach((c, k) => {
    els.push({
      type: "rect", silent: true,
      shape: { x: 544 + dx, y: 104 + dy + k * 12, width: 30, height: k === 20 ? 6 : 12 },
      style: { fill: c },
    });
  });
  legendTicks.forEach((s, k) => {
    els.push(t(635 + dx, 106.8 + dy + k * 23.65, s, `bold 20px ${SANS}`, "right"));
  });
  return els;
}

function contourBox(dx: number, dy: number) {
  const B = `bold 19px ${SANS}`;
  return [
    { type: "rect", silent: true, shape: { x: 486.7 + dx, y: 394 + dy, width: 209.3, height: 72.7 }, style: { fill: "#fff", stroke: "#222", lineWidth: 1 } },
    { type: "line", silent: true, shape: { x1: 494 + dx, y1: 429.3 + dy, x2: 565 + dx, y2: 429.3 + dy }, style: { stroke: "#000", lineWidth: 3 } },
    t(628 + dx, 410 + dy, "Contours of", B),
    t(630 + dx, 430.5 + dy, "{b|Vorticity}{x|×}{b|10}{e|-2}", B, "center", {
      b: { font: B, fill: "#000", lineHeight: 18 },
      x: { font: `19px ${SANS}`, fill: "#000", lineHeight: 18 },
      e: { font: `bold 11px ${SANS}`, fill: "#000", verticalAlign: "top", lineHeight: 18 },
    }),
    t(630 + dx, 450 + dy, "(1/sec)", B),
  ];
}

function lineBox(dx: number, dy: number) {
  const F = `19.5px ${SANS}`;
  return [
    { type: "rect", silent: true, shape: { x: 490 + dx, y: 618 + dy, width: 200, height: 61 }, style: { fill: "#fff", stroke: "#222", lineWidth: 1 } },
    { type: "line", silent: true, shape: { x1: 496 + dx, y1: 641 + dy, x2: 584 + dx, y2: 641 + dy }, style: { stroke: BLUE, lineWidth: 3 } },
    { type: "line", silent: true, shape: { x1: 496 + dx, y1: 665 + dy, x2: 584 + dx, y2: 665 + dy }, style: { stroke: GREEN, lineWidth: 3 } },
    t(599 + dx, 641 + dy, "Upwash", F, "left"),
    t(599 + dx, 664 + dy, "Edgewise", F, "left"),
  ];
}

function caption(cx: number, y: number, rate: boolean, word: string) {
  const F = `26px Liberation Serif`;
  if (!rate) return t(cx, y, word, F);
  return t(cx, y, `{n|1000  }{u|ft}{l|/}{m|min}{n| ${word}}`, F, "center", {
    n: { font: F, fill: "#000", lineHeight: 28 },
    l: { font: `30px Liberation Serif`, fill: "#000", lineHeight: 28 },
    u: { font: `18px Liberation Serif`, fill: "#000", verticalAlign: "top", lineHeight: 28 },
    m: { font: `18px Liberation Serif`, fill: "#000", verticalAlign: "bottom", lineHeight: 28 },
  });
}

export default function App() {
  const ref = useRef<HTMLDivElement>(null);
  useEffect(() => {
    const chart = echarts.init(ref.current!, undefined, { renderer: "svg" });
    const { xAxis, yAxis } = buildAxes();
    chart.setOption({
      animation: false,
      backgroundColor: "#fff",
      grid: gridDefs.map((g) => ({ left: g.left, top: g.top, width: g.width, height: g.height })),
      xAxis,
      yAxis,
      series: [
        ...fieldSeries(0, climbFill, climbContours, climbLabels, climbCore, [-3.4, -0.05]),
        ...fieldSeries(1, levelFill, levelContours, levelLabels, levelCore, [-3.4, 0.83]),
        ...fieldSeries(2, descentFill, descentContours, descentLabels, descentCore, [-3.1, 1]),
        ...lineSeries(3, climbBands, climbUpwash, climbEdgewise),
        ...lineSeries(4, levelBands, levelUpwash, levelEdgewise),
        ...lineSeries(5, descentBands, descentUpwash, descentEdgewise),
      ],
      graphic: {
        elements: [
          ...colorLegend(0, 0, 0),
          ...colorLegend(268, 831, 842),
          ...contourBox(0, 0),
          ...contourBox(268, 838.7),
          ...lineBox(0, 0),
          ...lineBox(268, 846.7),
          caption(246, 763, true, "Climb"),
          caption(1010, 763, false, "Level Flight"),
          caption(522, 1602, true, "Descent"),
        ],
      },
    });
    return () => chart.dispose();
  }, []);
  return <div ref={ref} style={{ position: "absolute", left: 0, top: 0, width: 1250, height: 1618 }} />;
}
